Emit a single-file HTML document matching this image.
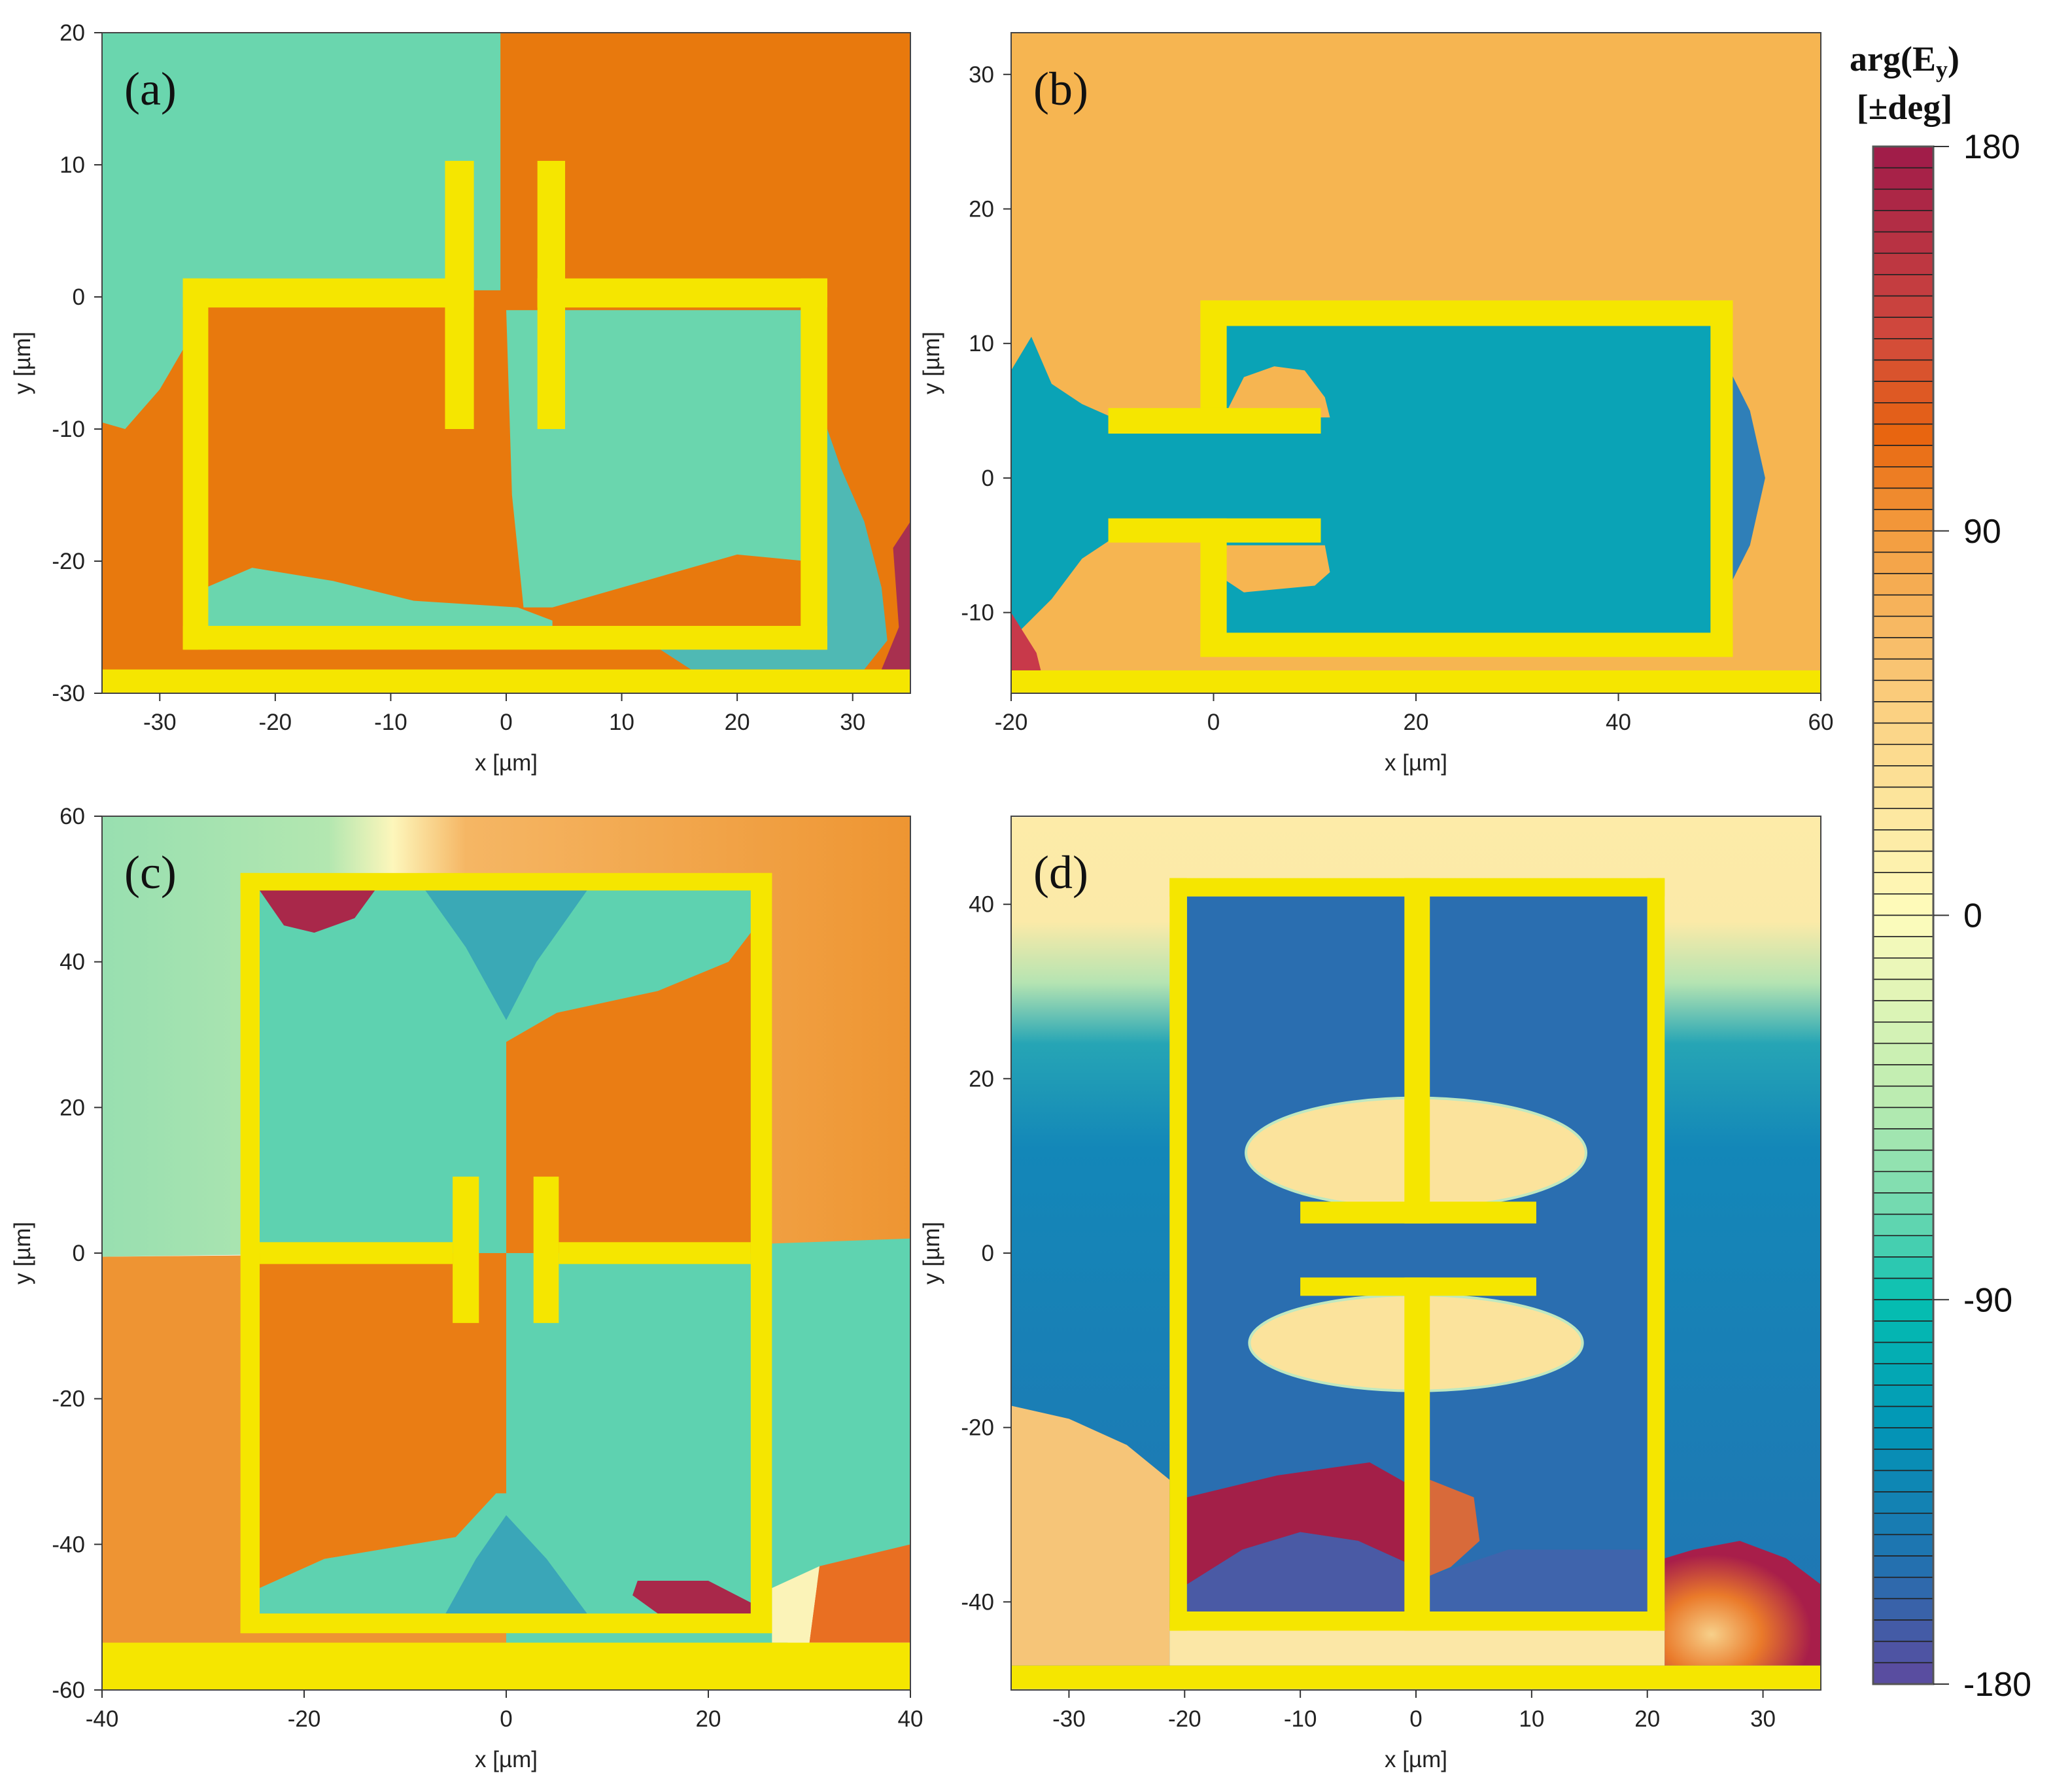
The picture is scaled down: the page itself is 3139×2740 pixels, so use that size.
<!DOCTYPE html>
<html><head><meta charset="utf-8">
<style>
html,body{margin:0;padding:0;background:#fff;}
svg{display:block;}
text{font-family:"Liberation Sans",sans-serif;}
</style></head>
<body>
<svg id="fig" width="3139" height="2740" viewBox="0 0 3139 2740" xmlns="http://www.w3.org/2000/svg">
<defs>
<linearGradient id="gc-top" x1="0" y1="0" x2="1" y2="0">
<stop offset="0" stop-color="#98dfb0"/><stop offset="0.28" stop-color="#b3e7b0"/><stop offset="0.36" stop-color="#fdf6bb"/><stop offset="0.45" stop-color="#f5b664"/><stop offset="1" stop-color="#ee9532"/></linearGradient>
<linearGradient id="gd-bg" x1="0" y1="0" x2="0" y2="1">
<stop offset="0" stop-color="#fdeba8"/><stop offset="0.12" stop-color="#fbeaa8"/><stop offset="0.19" stop-color="#b5e4b2"/><stop offset="0.26" stop-color="#26a5b5"/><stop offset="0.38" stop-color="#1387b8"/><stop offset="1" stop-color="#2274b2"/></linearGradient>
<radialGradient id="gd-br" cx="0.3" cy="0.75" r="0.8">
<stop offset="0" stop-color="#f7d08a"/><stop offset="0.4" stop-color="#ea7a2a"/><stop offset="0.8" stop-color="#a81e4a"/></radialGradient>
</defs>
<g id="panels"></g>
<g id="cbar"></g>
</svg>
<script>
// ---------- data ----------
const cbarStops = [180,135,112,90,45,0,-45,-70,-90,-120,-150,-180];
const cbarColors = ['#9e1a4a','#d24a3c','#e8660f','#f39c3e','#fbd486','#fefcbc','#b8ebb0','#6cd8b0','#05bfb1','#0296b6','#1f73b0','#5e4a9e'];
const cbarTicks = [180,90,0,-90,-180];
const ticksA_x=[-30,-20,-10,0,10,20,30], ticksA_y=[-30,-20,-10,0,10,20];
const ticksB_x=[-20,0,20,40,60], ticksB_y=[-10,0,10,20,30];
const ticksC_x=[-40,-20,0,20,40], ticksC_y=[-60,-40,-20,0,20,40,60];
const ticksD_x=[-30,-20,-10,0,10,20,30], ticksD_y=[-40,-20,0,20,40];
// electrode rectangles [x0,x1,y0,y1] in µm
const elecA=[[-28,-2.8,-0.8,1.4],[2.7,27.8,-0.8,1.4],[-28,-25.8,-26.7,1.4],[25.5,27.8,-26.7,1.4],[-28,27.8,-26.7,-24.9],[-5.3,-2.8,-10,10.3],[2.7,5.1,-10,10.3],[-35,35,-30,-28.2]];
const elecB=[[-1.3,51.3,11.3,13.2],[-1.3,1.3,3.3,13.2],[-1.3,1.3,-13.3,-3],[49.1,51.3,-13.3,13.2],[-1.3,51.3,-13.3,-11.5],[-10.4,10.6,3.3,5.2],[-10.4,10.6,-4.8,-3],[-20,60,-16,-14.3]];
const elecC=[[-26.3,26.3,49.8,52.2],[-26.3,26.3,-52.2,-49.5],[-26.3,-24.4,-52.2,52.2],[24.2,26.3,-52.2,52.2],[-24.4,-5.3,-1.5,1.5],[5.2,24.2,-1.5,1.5],[-5.3,-2.7,-9.6,10.5],[2.7,5.2,-9.6,10.5],[-40,40,-60,-53.5]];
const elecD=[[-21.3,21.5,40.9,43],[-21.3,21.5,-43.3,-41.1],[-21.3,-19.8,-43.3,43],[20,21.5,-43.3,43],[-1,1.2,3.4,43],[-1,1.2,-43.3,-2.8],[-10,10.4,3.4,5.9],[-10,10.4,-4.9,-2.8],[-35,35,-50,-47.3]];
// phase regions: colour + polygon in µm
const fieldA=[
 {c:'#e8790d',p:[[-35,20],[35,20],[35,-30],[-35,-30]]},
 {c:'#6ad6ae',p:[[-35,20],[-0.5,20],[-0.5,0.5],[-28,0.5],[-28,-4],[-30,-7],[-33,-10],[-35,-9.5]]},
 {c:'#6ad6ae',p:[[0,-1],[26,-1],[26,-20],[20,-19.5],[4,-23.5],[1.5,-23.5],[0.5,-15]]},
 {c:'#6ad6ae',p:[[-26,-22],[-22,-20.5],[-15,-21.5],[-8,-23],[1,-23.5],[4,-24.5],[4,-25],[-26,-25]]},
 {c:'#4fb9b4',p:[[27,-8],[29,-13],[31,-17],[32.5,-22],[33,-26],[31,-28.2],[16,-28.2],[13,-26.5],[27,-26.5]]},
 {c:'#a8304f',p:[[33.5,-19],[35,-17],[35,-28.2],[32.5,-28.2],[34,-25]]}
];
const fieldB=[
 {c:'#f6b551',p:[[-20,33.1],[60,33.1],[60,-16],[-20,-16]]},
 {c:'#0aa3b6',p:[[-20,8],[-18,10.5],[-16,7],[-13,5.5],[-10,4.5],[0,4.5],[0,12],[50,12],[50,-12],[0,-12],[0,-4.5],[-10,-4.5],[-13,-6],[-16,-9],[-20,-12]]},
 {c:'#f6b551',p:[[1,4.5],[3,7.5],[6,8.3],[9,8],[11,6],[11.5,4.5]]},
 {c:'#f6b551',p:[[1,-5],[11,-5],[11.5,-7],[10,-8],[3,-8.5],[1,-7.5]]},
 {c:'#2f7fb8',p:[[51,8],[53,5],[54.5,0],[53,-5],[51,-8]]},
 {c:'#c8394a',p:[[-20,-10],[-17.5,-13],[-16.5,-16],[-20,-16]]}
];
const fieldC=[
 {c:'url(#gc-top)',p:[[-40,60],[40,60],[40,1],[-40,-0.5]]},
 {c:'#ee9433',p:[[-40,-0.5],[0,0],[0,-60],[-40,-60]]},
 {c:'#5fd3b0',p:[[0,0],[40,2],[40,-40],[30,-46],[26,-60],[0,-60]]},
 {c:'#5ed2b0',p:[[-24.4,49.8],[24.2,49.8],[24.2,0],[-24.4,0]]},
 {c:'#3aa9b6',p:[[-8,49.8],[8,49.8],[3,40],[0,32],[-4,42]]},
 {c:'#ea7d14',p:[[0,29],[5,33],[15,36],[22,40],[24.2,44],[24.2,0],[0,0]]},
 {c:'#ea7d14',p:[[-24.4,0],[0,0],[0,-33],[-1,-33],[-5,-39],[-18,-42],[-24.4,-46]]},
 {c:'#5ed2b0',p:[[0,0],[24.2,0],[24.2,-49.5],[0,-49.5]]},
 {c:'#5ed2b0',p:[[-24.4,-46],[-18,-42],[-5,-39],[-1,-33],[0,-33],[0,-49.5],[-24.4,-49.5]]},
 {c:'#3aa6b8',p:[[-6,-49.5],[8,-49.5],[4,-42],[0,-36],[-3,-42]]},
 {c:'#a9284a',p:[[-24.4,49.8],[-13,49.8],[-15,46],[-19,44],[-22,45]]},
 {c:'#a9284a',p:[[13,-45],[20,-45],[24.2,-48],[24.2,-49.5],[15,-49.5],[12.5,-47]]},
 {c:'#e96f22',p:[[31,-43],[40,-40],[40,-53.5],[30,-53.5]]},
 {c:'#fbf3b8',p:[[26.3,-46],[31,-43],[30,-53.5],[26.3,-53.5]]}
];
const fieldD=[
 {c:'url(#gd-bg)',p:[[-35,50],[35,50],[35,-50],[-35,-50]]},
 {c:'#2a6eb0',p:[[-19.8,40.9],[20,40.9],[20,-41.1],[-19.8,-41.1]]},
 {c:'#f6c578',p:[[-35,-17.5],[-30,-19],[-25,-22],[-21.3,-26],[-21.3,-47.3],[-35,-47.3]]},
 {c:'#fbe7a6',p:[[-21.3,-43],[21.5,-43],[21.5,-47.3],[-21.3,-47.3]]},
 {c:'#a31f48',p:[[-19.8,-28],[-12,-25.5],[-4,-24],[0,-27],[0,-36],[-5,-33],[-10,-32],[-15,-34],[-19.8,-38]]},
 {c:'#d86a3a',p:[[1.2,-26],[5,-28],[5.5,-33],[3,-36],[1.2,-37]]},
 {c:'#4a5aa5',p:[[-19.8,-38],[-15,-34],[-10,-32],[-5,-33],[0,-36],[0,-41.1],[-19.8,-41.1]]},
 {c:'#3f64ac',p:[[1.2,-37],[8,-34],[20,-34],[20,-41.1],[1.2,-41.1]]},
 {c:'url(#gd-br)',p:[[21.5,-35],[24,-34],[28,-33],[32,-35],[35,-38],[35,-47.3],[21.5,-47.3]]}
];
const blobsD=[[0,11.5,14.7,6.3],[0,-10.3,14.4,5.5]]; // cx,cy,rx,ry in µm

// ---------- rendering ----------
const NS='http://www.w3.org/2000/svg';
const root=document.getElementById('panels');
function el(tag,attrs,parent){const e=document.createElementNS(NS,tag);for(const k in attrs)e.setAttribute(k,attrs[k]);(parent||root).appendChild(e);return e;}
function colorAt(v){for(let i=0;i<cbarStops.length-1;i++){const a=cbarStops[i],b=cbarStops[i+1];if(v<=a&&v>=b){const t=(a-v)/(a-b);return mix(cbarColors[i],cbarColors[i+1],t);}}return cbarColors[cbarColors.length-1];}
function mix(c1,c2,t){const p=c=>[1,3,5].map(i=>parseInt(c.substr(i,2),16));const a=p(c1),b=p(c2);return 'rgb('+a.map((x,i)=>Math.round(x+(b[i]-x)*t)).join(',')+')';}

function panel(id,L,T,R,B,xr,yr,tx,ty,fld,elec,letter,blobs){
  const g=el('g',{});
  
  
  const sx=x=>L+(x-xr[0])/(xr[1]-xr[0])*(R-L);
  const sy=y=>T+(yr[1]-y)/(yr[1]-yr[0])*(B-T);
  const cp=el('clipPath',{id:'clip-'+id},g);
  el('rect',{x:L,y:T,width:R-L,height:B-T},cp);
  const fg=el('g',{'clip-path':'url(#clip-'+id+')'},g);
  
  
  fld.forEach(r=>{const pg=el('polygon',{points:r.p.map(q=>sx(q[0])+','+sy(q[1])).join(' '),fill:r.c},fg);
    
    });
  (blobs||[]).forEach(b=>{const e=el('ellipse',{cx:sx(b[0]),cy:sy(b[1]),rx:b[2]/(xr[1]-xr[0])*(R-L),ry:b[3]/(yr[1]-yr[0])*(B-T),fill:'#fbe39c',stroke:'#bfe8c0','stroke-width':4},fg);
    
    });
  elec.forEach(r=>{const re=el('rect',{x:sx(r[0]),y:sy(r[3]),width:sx(r[1])-sx(r[0]),height:sy(r[2])-sy(r[3]),fill:'#f5e600'},fg);
    
    });
  const fr=el('rect',{x:L,y:T,width:R-L,height:B-T,fill:'none',stroke:'#444','stroke-width':2},g);
  
  
  tx.forEach(v=>{const X=sx(v);el('line',{x1:X,y1:B,x2:X,y2:B+12,stroke:'#333','stroke-width':2},g);
    const t=el('text',{x:X,y:B+56,'font-size':35,'text-anchor':'middle',fill:'#222'},g);t.textContent=v;
    
    });
  ty.forEach(v=>{const Y=sy(v);el('line',{x1:L-12,y1:Y,x2:L,y2:Y,stroke:'#333','stroke-width':2},g);
    const t=el('text',{x:L-26,y:Y+12,'font-size':35,'text-anchor':'end',fill:'#222'},g);t.textContent=v;
    
    });
  const xl=el('text',{x:(L+R)/2,y:B+118,'font-size':35,'text-anchor':'middle',fill:'#222'},g);xl.textContent='x [µm]';
  
  
  const yx=L-110,yy=(T+B)/2;
  const yl=el('text',{x:yx,y:yy,'font-size':35,'text-anchor':'middle',fill:'#222',transform:'rotate(-90 '+yx+' '+yy+')'},g);yl.textContent='y [µm]';
  
  
  const pl=el('text',{x:L+34,y:T+110,'font-size':72,fill:'#111',style:'font-family:"Liberation Serif",serif'},g);pl.textContent=letter;
  
  
}
panel('a',156,50,1392,1060,[-35,35],[-30,20],ticksA_x,ticksA_y,fieldA,elecA,'(a)');
panel('b',1546,50,2784,1060,[-20,60],[-16,33.1],ticksB_x,ticksB_y,fieldB,elecB,'(b)');
panel('c',156,1248,1392,2584,[-40,40],[-60,60],ticksC_x,ticksC_y,fieldC,elecC,'(c)');
panel('d',1546,1248,2784,2584,[-35,35],[-50.1,50.1],ticksD_x,ticksD_y,fieldD,elecD,'(d)',blobsD);

// colorbar
const cb=document.getElementById('cbar');
const CL=2864,CR=2956,CT=224,CB=2575,N=72;
const cy=v=>CT+(180-v)/360*(CB-CT);
for(let i=0;i<N;i++){const v0=180-i*5,v1=v0-5;
  const r=el('rect',{x:CL,y:cy(v0),width:CR-CL,height:cy(v1)-cy(v0),fill:colorAt((v0+v1)/2),stroke:'#222','stroke-width':1.6},cb);
  
  }
el('rect',{x:CL,y:CT,width:CR-CL,height:CB-CT,fill:'none',stroke:'#555','stroke-width':3},cb);
cbarTicks.forEach(v=>{const Y=cy(v);el('line',{x1:CR,y1:Y,x2:CR+24,y2:Y,stroke:'#333','stroke-width':2},cb);
  const t=el('text',{x:CR+46,y:Y+18,'font-size':52,fill:'#111'},cb);t.textContent=v;
  
  });
const t1=el('text',{x:2912,y:108,'font-size':54,'font-weight':'bold','text-anchor':'middle',fill:'#111',style:'font-family:"Liberation Serif",serif'},cb);
t1.innerHTML='arg(E<tspan font-size="36" dy="10">y</tspan><tspan dy="-10">)</tspan>';


const t2=el('text',{x:2912,y:182,'font-size':54,'font-weight':'bold','text-anchor':'middle',fill:'#111',style:'font-family:"Liberation Serif",serif'},cb);
t2.textContent='[±deg]';


</script>
</body></html>
